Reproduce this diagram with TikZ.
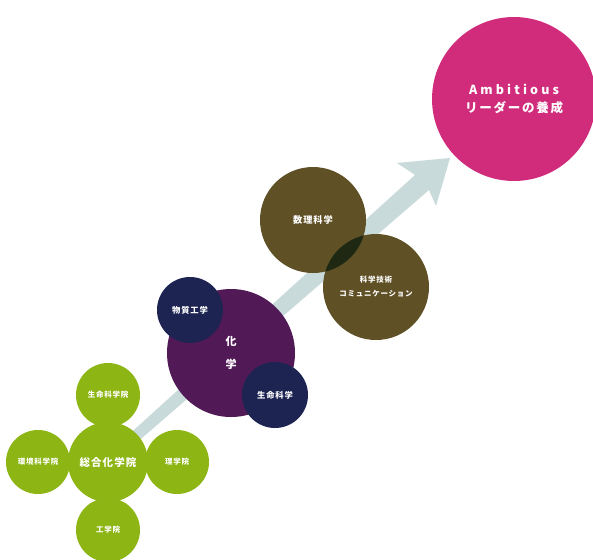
\documentclass[tikz,border=0pt]{standalone}
\usepackage{fontspec}
\setmainfont{Noto Sans CJK JP}
\newfontfamily\jpS{Noto Sans CJK JP}[LetterSpace=10]
\newfontfamily\jpM{Noto Sans CJK JP}[LetterSpace=14]
\newfontfamily\jpL{Noto Sans CJK JP}[LetterSpace=25]
\definecolor{grc}{RGB}{141,181,20}
\definecolor{arrc}{RGB}{201,218,218}
\definecolor{purc}{RGB}{81,26,87}
\definecolor{navc}{RGB}{29,36,82}
\definecolor{olic}{RGB}{95,80,37}
\definecolor{lensc}{RGB}{30,40,18}
\definecolor{magc}{RGB}{209,44,124}
\begin{document}
\begin{tikzpicture}[x=1pt,y=-1pt,
  disc/.style={circle,inner sep=0pt,text=white,align=center},
  gsmall/.style={disc,fill=grc,minimum size=64pt,font=\jpS\bfseries\fontsize{7.5}{9}\selectfont},
  navdisc/.style={disc,fill=navc,minimum size=66pt,font=\jpS\bfseries\fontsize{8.3}{10}\selectfont},
  olidisc/.style={disc,fill=olic,minimum size=106pt},
]
\useasboundingbox (0,0) rectangle (593,559);
\fill[white] (0,0) rectangle (593,559);

% arrow
\coordinate (tip) at (450,158);
\coordinate (wr) at (436,206);
\coordinate (jr) at (429,190);
\coordinate (tr) at (133.6,445.2);
\coordinate (tl) at (126.4,436.8);
\coordinate (jl) at (415,175);
\coordinate (wl) at (397,163);
\fill[arrc] (tip) -- (wr) -- (jr) -- (tr) -- (tl) -- (jl) -- (wl) -- cycle;

% green cluster
\node[gsmall] (seimeiin) at (108,395) {生命科学院};
\node[gsmall] (kankyo) at (38,462) {環境科学院};
\node[gsmall] (rigaku) at (177,462) {理学院};
\node[gsmall] (kogaku) at (108,530) {工学院};
\node[disc,fill=grc,minimum size=80pt,font=\jpS\bfseries\fontsize{10.5}{12}\selectfont] (sogo) at (108,462) {総合化学院};

% chemistry
\node[disc,fill=purc,minimum size=128pt,font=\bfseries\fontsize{11}{23}\selectfont] (kagaku) at (231,353) {化\\学};
\node[navdisc] (busshitsu) at (190,310) {物質工学};
\node[navdisc] (seimei) at (275,395) {生命科学};

% olive pair
\node[olidisc,font=\jpS\bfseries\fontsize{9.2}{11}\selectfont] (suri) at (313,220) {数理科学};
\node[olidisc,font=\jpS\bfseries\fontsize{7.5}{14}\selectfont] (gijutsu) at (376,287) {科学技術\\コミュニケーション};
\begin{scope}
  \clip (suri.center) circle (53);
  \fill[lensc] (gijutsu.center) circle (53);
\end{scope}

% goal
\node[disc,fill=magc,minimum size=164pt,font=\bfseries\fontsize{12.5}{18.5}\selectfont] (amb) at (514,99)
  {{\jpL\bfseries Ambitious}\\{\jpM\bfseries リーダーの養成}};
\end{tikzpicture}
\end{document}
